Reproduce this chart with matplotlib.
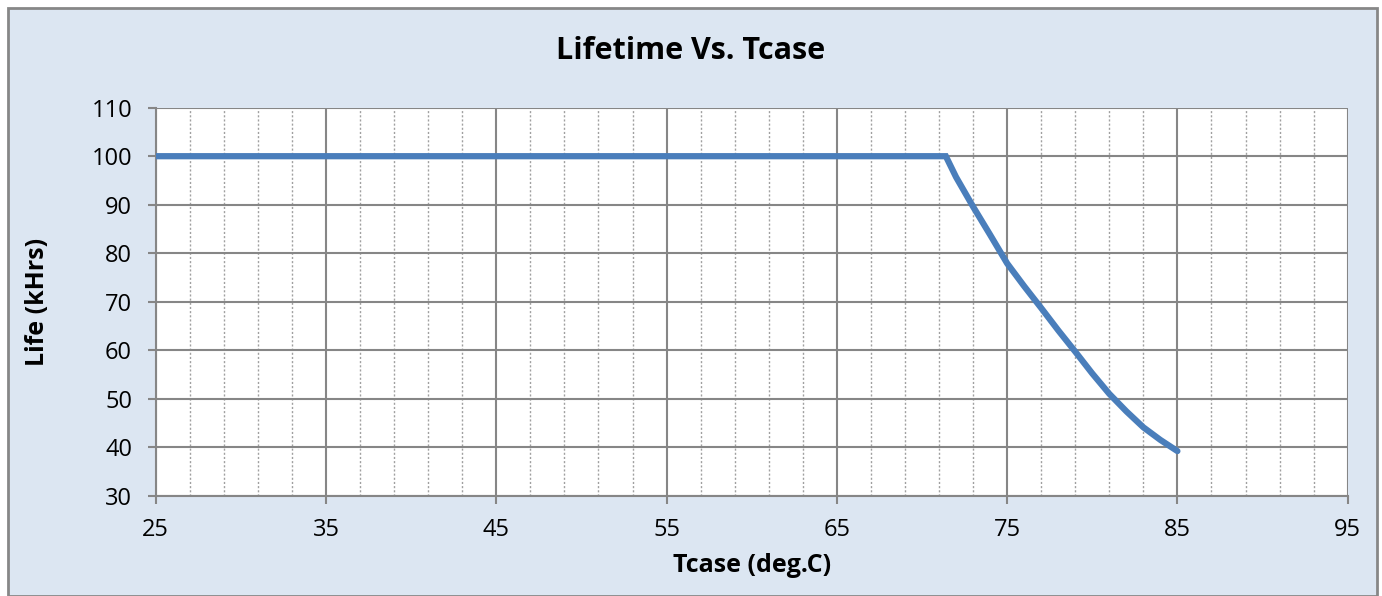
import matplotlib
matplotlib.use("Agg")
import matplotlib.pyplot as plt
from matplotlib.ticker import FixedLocator
from matplotlib.patches import Rectangle

# Data
tcase = [25, 71.4, 72, 73, 74, 75, 76, 77, 78, 79, 80, 81, 82, 83, 84, 85]
life = [100, 100, 95.7, 89.6, 83.8, 77.9, 73.2, 68.7, 64.1, 59.7, 55.2, 51.0, 47.4, 44.1, 41.5, 39.2]

x_major = [25, 35, 45, 55, 65, 75, 85, 95]
x_minor = [27, 29, 31, 33, 37, 39, 41, 43, 47, 49, 51, 53, 57, 59, 61, 63,
           67, 69, 71, 73, 77, 79, 81, 83, 87, 89, 91, 93]
y_major = [30, 40, 50, 60, 70, 80, 90, 100, 110]

title = "Lifetime Vs. Tcase"
xlabel = "Tcase (deg.C)"
ylabel = "Life (kHrs)"

plt.rcParams['font.family'] = ['Open Sans', 'DejaVu Sans']

W, H = 1382, 596
fig = plt.figure(figsize=(W / 100, H / 100), dpi=100)
fig.patch.set_facecolor("white")
# chart area background with border
fig.add_artist(Rectangle((8 / W, 0), (1377 - 8) / W, 1 - 8 / H, transform=fig.transFigure,
                         facecolor="#DCE6F2", edgecolor="#878787", linewidth=2.0, zorder=0))

ax = fig.add_axes([155.7 / W, 1 - 495.7 / H, (1347.7 - 155.7) / W, (495.7 - 107.7) / H])
ax.set_facecolor("white")
ax.plot(tcase, life, color="#4A7EBB", linewidth=4.5, solid_capstyle="round", solid_joinstyle="miter", zorder=3)

ax.set_xlim(25, 95)
ax.set_ylim(30, 110)
ax.xaxis.set_major_locator(FixedLocator(x_major))
ax.xaxis.set_minor_locator(FixedLocator(x_minor))
ax.yaxis.set_major_locator(FixedLocator(y_major))

ax.grid(which="major", axis="both", color="#868686", linewidth=1.5, zorder=1)
ax.grid(which="minor", axis="x", color="#A0A0A0", linewidth=1.0, linestyle=(0, (1.5, 1.5)), zorder=1)
ax.set_axisbelow(True)

for s in ax.spines.values():
    s.set_color("#868686")
    s.set_linewidth(1.5)
ax.spines["top"].set_visible(False)
ax.spines["right"].set_visible(False)

ax.tick_params(which="major", direction="out", length=6, width=1.5, color="#868686",
               labelsize=17, labelcolor="black")
ax.tick_params(axis="x", which="major", pad=10)
ax.tick_params(axis="y", which="major", pad=11)
ax.tick_params(which="minor", length=0)

ax.set_xlabel(xlabel, fontsize=18, fontweight="bold", va="center")
ax.xaxis.set_label_coords(0.5, (30 - (H - 495.7)) / 388)
ax.set_ylabel(ylabel, fontsize=18, fontweight="bold", va="center")
ax.yaxis.set_label_coords((38 - 155.7) / 1192, 0.5)
fig.text(0.5, 1 - 51 / H, title, ha="center", va="center", fontsize=22, fontweight="bold")

fig.savefig("out.png", dpi=100, facecolor=fig.get_facecolor())
